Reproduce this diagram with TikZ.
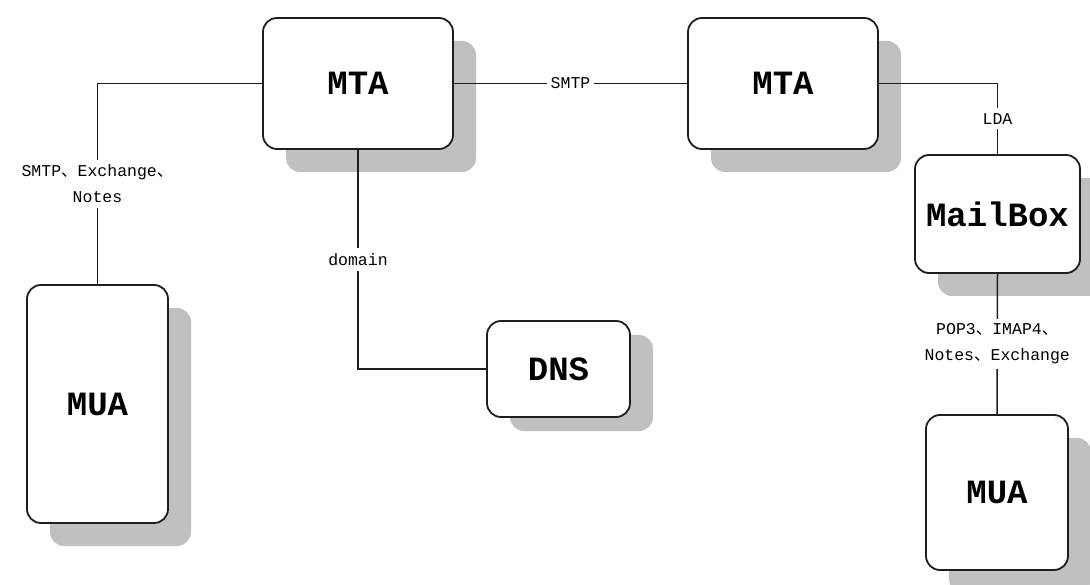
\documentclass[tikz,border=0pt]{standalone}
\usepackage{fontspec}
\setmainfont{Liberation Mono}
\newfontfamily\cjk{Noto Sans CJK SC}
\newcommand{\ideocomma}{{\cjk 、}}
\usetikzlibrary{shadows}
\definecolor{shadowc}{RGB}{192,192,192}
\definecolor{edgec}{RGB}{30,30,30}
\tikzset{
  box/.style 2 args={draw=edgec, line width=1.8pt, fill=white, rectangle, rounded corners=14pt,
    inner sep=0pt, font=\bfseries\fontsize{34}{34}\selectfont,
    drop shadow={shadow xshift=#1, shadow yshift=-#2, fill=shadowc, opacity=1}},
  stdbox/.style={box={23pt}{23pt}},
  link/.style={draw=edgec, line width=1.5pt},
  lbl/.style={fill=white, inner xsep=4pt, inner ysep=5pt, align=center,
    font=\fontsize{16.5}{26}\selectfont}
}
\begin{document}
\begin{tikzpicture}[x=1pt, y=-1pt]
\useasboundingbox (0,0) rectangle (1090,585);

% mail servers, mailbox, clients and DNS
\node[stdbox, minimum width=190pt, minimum height=131pt] (mta1) at (358,83.5) {MTA};
\node[stdbox, minimum width=190pt, minimum height=131pt] (mta2) at (783,83.5) {MTA};
\node[stdbox, minimum width=165pt, minimum height=118pt] (mbox) at (997.5,214) {MailBox};
\node[stdbox, minimum width=141pt, minimum height=238pt] (muaL) at (97.5,404) {MUA};
\node[box={23pt}{14pt}, minimum width=143pt, minimum height=96pt] (dns) at (558.5,369) {DNS};
\node[stdbox, minimum width=142pt, minimum height=155pt] (muaR) at (997,492.5) {MUA};

% protocol links
\draw[link] (mta1.west) -| node[lbl, pos=0.75]{SMTP\ideocomma Exchange\ideocomma\\Notes} (muaL.north);
\draw[link] (mta1.east) -- node[lbl]{SMTP} (mta2.west);
\draw[link] (mta1.south) |- node[lbl, pos=0.25]{domain} (dns.west);
\draw[link] (mta2.east) -| node[lbl, pos=0.75]{LDA} (mbox.north);
\draw[link] (mbox.south) -- node[lbl]{POP3\ideocomma IMAP4\ideocomma\\Notes\ideocomma Exchange} (muaR.north);
\end{tikzpicture}
\end{document}
